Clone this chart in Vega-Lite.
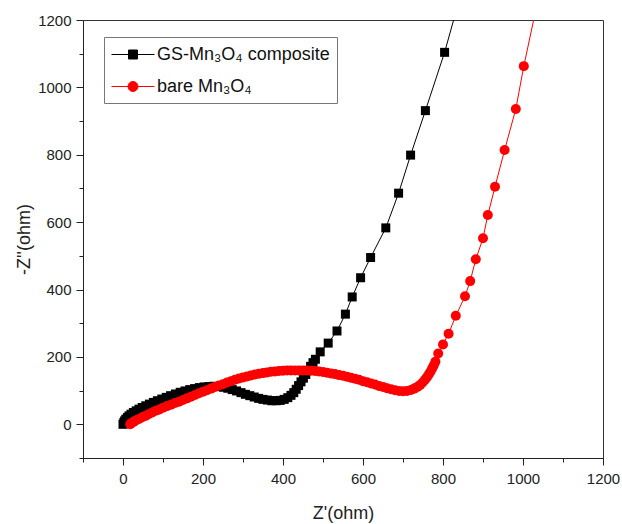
{
  "$schema": "https://vega.github.io/schema/vega-lite/v6.json",
  "width": 520,
  "height": 438,
  "autosize": {"type": "none"},
  "padding": {"left": 83, "top": 20, "right": 19, "bottom": 66},
  "background": "white",
  "config": {
    "font": "Liberation Sans",
    "view": {"stroke": "#333", "strokeWidth": 1},
    "axis": {"grid": false, "domainColor": "#222", "tickColor": "#222", "labelColor": "#222", "titleColor": "#222", "labelFont": "Liberation Sans", "titleFont": "Liberation Sans", "titleFontWeight": "normal"}
  },
  "datasets": {
    "eis": [
      {"series": "GS-Mn₃O₄ composite", "o": 1, "x": 0, "y": 0},
      {"series": "GS-Mn₃O₄ composite", "o": 2, "x": 2, "y": 5},
      {"series": "GS-Mn₃O₄ composite", "o": 3, "x": 4, "y": 10},
      {"series": "GS-Mn₃O₄ composite", "o": 4, "x": 7, "y": 15},
      {"series": "GS-Mn₃O₄ composite", "o": 5, "x": 11, "y": 20},
      {"series": "GS-Mn₃O₄ composite", "o": 6, "x": 15, "y": 25},
      {"series": "GS-Mn₃O₄ composite", "o": 7, "x": 20, "y": 30},
      {"series": "GS-Mn₃O₄ composite", "o": 8, "x": 26, "y": 35},
      {"series": "GS-Mn₃O₄ composite", "o": 9, "x": 33, "y": 40},
      {"series": "GS-Mn₃O₄ composite", "o": 10, "x": 40, "y": 45},
      {"series": "GS-Mn₃O₄ composite", "o": 11, "x": 48, "y": 50},
      {"series": "GS-Mn₃O₄ composite", "o": 12, "x": 57, "y": 55},
      {"series": "GS-Mn₃O₄ composite", "o": 13, "x": 66, "y": 60},
      {"series": "GS-Mn₃O₄ composite", "o": 14, "x": 76, "y": 65},
      {"series": "GS-Mn₃O₄ composite", "o": 15, "x": 86, "y": 70},
      {"series": "GS-Mn₃O₄ composite", "o": 16, "x": 97, "y": 75},
      {"series": "GS-Mn₃O₄ composite", "o": 17, "x": 108, "y": 80},
      {"series": "GS-Mn₃O₄ composite", "o": 18, "x": 119, "y": 85},
      {"series": "GS-Mn₃O₄ composite", "o": 19, "x": 131, "y": 90},
      {"series": "GS-Mn₃O₄ composite", "o": 20, "x": 143, "y": 95},
      {"series": "GS-Mn₃O₄ composite", "o": 21, "x": 155, "y": 99},
      {"series": "GS-Mn₃O₄ composite", "o": 22, "x": 167, "y": 103},
      {"series": "GS-Mn₃O₄ composite", "o": 23, "x": 179, "y": 106},
      {"series": "GS-Mn₃O₄ composite", "o": 24, "x": 191, "y": 109},
      {"series": "GS-Mn₃O₄ composite", "o": 25, "x": 203, "y": 111},
      {"series": "GS-Mn₃O₄ composite", "o": 26, "x": 215, "y": 112},
      {"series": "GS-Mn₃O₄ composite", "o": 27, "x": 227, "y": 113},
      {"series": "GS-Mn₃O₄ composite", "o": 28, "x": 239, "y": 112},
      {"series": "GS-Mn₃O₄ composite", "o": 29, "x": 251, "y": 110},
      {"series": "GS-Mn₃O₄ composite", "o": 30, "x": 262, "y": 107},
      {"series": "GS-Mn₃O₄ composite", "o": 31, "x": 273, "y": 103},
      {"series": "GS-Mn₃O₄ composite", "o": 32, "x": 284, "y": 99},
      {"series": "GS-Mn₃O₄ composite", "o": 33, "x": 295, "y": 94},
      {"series": "GS-Mn₃O₄ composite", "o": 34, "x": 306, "y": 89},
      {"series": "GS-Mn₃O₄ composite", "o": 35, "x": 317, "y": 85},
      {"series": "GS-Mn₃O₄ composite", "o": 36, "x": 328, "y": 81},
      {"series": "GS-Mn₃O₄ composite", "o": 37, "x": 339, "y": 77},
      {"series": "GS-Mn₃O₄ composite", "o": 38, "x": 350, "y": 74},
      {"series": "GS-Mn₃O₄ composite", "o": 39, "x": 361, "y": 72},
      {"series": "GS-Mn₃O₄ composite", "o": 40, "x": 372, "y": 70},
      {"series": "GS-Mn₃O₄ composite", "o": 41, "x": 383, "y": 70},
      {"series": "GS-Mn₃O₄ composite", "o": 42, "x": 393, "y": 71},
      {"series": "GS-Mn₃O₄ composite", "o": 43, "x": 403, "y": 74},
      {"series": "GS-Mn₃O₄ composite", "o": 44, "x": 412, "y": 79},
      {"series": "GS-Mn₃O₄ composite", "o": 45, "x": 420, "y": 86},
      {"series": "GS-Mn₃O₄ composite", "o": 46, "x": 427, "y": 94},
      {"series": "GS-Mn₃O₄ composite", "o": 47, "x": 433, "y": 104},
      {"series": "GS-Mn₃O₄ composite", "o": 48, "x": 439, "y": 115},
      {"series": "GS-Mn₃O₄ composite", "o": 49, "x": 445, "y": 126},
      {"series": "GS-Mn₃O₄ composite", "o": 50, "x": 451, "y": 137},
      {"series": "GS-Mn₃O₄ composite", "o": 51, "x": 457, "y": 148},
      {"series": "GS-Mn₃O₄ composite", "o": 52, "x": 463, "y": 160},
      {"series": "GS-Mn₃O₄ composite", "o": 53, "x": 469, "y": 172},
      {"series": "GS-Mn₃O₄ composite", "o": 54, "x": 475, "y": 183},
      {"series": "GS-Mn₃O₄ composite", "o": 55, "x": 481, "y": 193},
      {"series": "GS-Mn₃O₄ composite", "o": 56, "x": 493, "y": 215},
      {"series": "GS-Mn₃O₄ composite", "o": 57, "x": 513, "y": 241},
      {"series": "GS-Mn₃O₄ composite", "o": 58, "x": 535, "y": 277},
      {"series": "GS-Mn₃O₄ composite", "o": 59, "x": 556, "y": 327},
      {"series": "GS-Mn₃O₄ composite", "o": 60, "x": 573, "y": 378},
      {"series": "GS-Mn₃O₄ composite", "o": 61, "x": 594, "y": 435},
      {"series": "GS-Mn₃O₄ composite", "o": 62, "x": 619, "y": 495},
      {"series": "GS-Mn₃O₄ composite", "o": 63, "x": 657, "y": 583},
      {"series": "GS-Mn₃O₄ composite", "o": 64, "x": 689, "y": 686},
      {"series": "GS-Mn₃O₄ composite", "o": 65, "x": 719, "y": 799},
      {"series": "GS-Mn₃O₄ composite", "o": 66, "x": 756, "y": 931},
      {"series": "GS-Mn₃O₄ composite", "o": 67, "x": 804, "y": 1104},
      {"series": "GS-Mn₃O₄ composite", "o": 68, "x": 850, "y": 1300},
      {"series": "bare Mn₃O₄", "o": 1, "x": 18, "y": 0},
      {"series": "bare Mn₃O₄", "o": 2, "x": 22, "y": 4},
      {"series": "bare Mn₃O₄", "o": 3, "x": 27, "y": 8},
      {"series": "bare Mn₃O₄", "o": 4, "x": 33, "y": 12},
      {"series": "bare Mn₃O₄", "o": 5, "x": 40, "y": 16},
      {"series": "bare Mn₃O₄", "o": 6, "x": 48, "y": 21},
      {"series": "bare Mn₃O₄", "o": 7, "x": 56, "y": 25},
      {"series": "bare Mn₃O₄", "o": 8, "x": 64, "y": 30},
      {"series": "bare Mn₃O₄", "o": 9, "x": 73, "y": 35},
      {"series": "bare Mn₃O₄", "o": 10, "x": 82, "y": 40},
      {"series": "bare Mn₃O₄", "o": 11, "x": 91, "y": 44},
      {"series": "bare Mn₃O₄", "o": 12, "x": 100, "y": 49},
      {"series": "bare Mn₃O₄", "o": 13, "x": 110, "y": 54},
      {"series": "bare Mn₃O₄", "o": 14, "x": 120, "y": 58},
      {"series": "bare Mn₃O₄", "o": 15, "x": 130, "y": 63},
      {"series": "bare Mn₃O₄", "o": 16, "x": 140, "y": 67},
      {"series": "bare Mn₃O₄", "o": 17, "x": 150, "y": 72},
      {"series": "bare Mn₃O₄", "o": 18, "x": 160, "y": 77},
      {"series": "bare Mn₃O₄", "o": 19, "x": 170, "y": 82},
      {"series": "bare Mn₃O₄", "o": 20, "x": 180, "y": 87},
      {"series": "bare Mn₃O₄", "o": 21, "x": 190, "y": 92},
      {"series": "bare Mn₃O₄", "o": 22, "x": 200, "y": 97},
      {"series": "bare Mn₃O₄", "o": 23, "x": 210, "y": 101},
      {"series": "bare Mn₃O₄", "o": 24, "x": 220, "y": 106},
      {"series": "bare Mn₃O₄", "o": 25, "x": 230, "y": 111},
      {"series": "bare Mn₃O₄", "o": 26, "x": 240, "y": 115},
      {"series": "bare Mn₃O₄", "o": 27, "x": 250, "y": 119},
      {"series": "bare Mn₃O₄", "o": 28, "x": 260, "y": 124},
      {"series": "bare Mn₃O₄", "o": 29, "x": 270, "y": 128},
      {"series": "bare Mn₃O₄", "o": 30, "x": 280, "y": 132},
      {"series": "bare Mn₃O₄", "o": 31, "x": 290, "y": 136},
      {"series": "bare Mn₃O₄", "o": 32, "x": 300, "y": 139},
      {"series": "bare Mn₃O₄", "o": 33, "x": 310, "y": 142},
      {"series": "bare Mn₃O₄", "o": 34, "x": 320, "y": 145},
      {"series": "bare Mn₃O₄", "o": 35, "x": 330, "y": 148},
      {"series": "bare Mn₃O₄", "o": 36, "x": 340, "y": 150},
      {"series": "bare Mn₃O₄", "o": 37, "x": 350, "y": 152},
      {"series": "bare Mn₃O₄", "o": 38, "x": 360, "y": 154},
      {"series": "bare Mn₃O₄", "o": 39, "x": 370, "y": 156},
      {"series": "bare Mn₃O₄", "o": 40, "x": 380, "y": 157},
      {"series": "bare Mn₃O₄", "o": 41, "x": 390, "y": 158},
      {"series": "bare Mn₃O₄", "o": 42, "x": 400, "y": 159},
      {"series": "bare Mn₃O₄", "o": 43, "x": 410, "y": 160},
      {"series": "bare Mn₃O₄", "o": 44, "x": 420, "y": 160},
      {"series": "bare Mn₃O₄", "o": 45, "x": 430, "y": 160},
      {"series": "bare Mn₃O₄", "o": 46, "x": 440, "y": 160},
      {"series": "bare Mn₃O₄", "o": 47, "x": 450, "y": 160},
      {"series": "bare Mn₃O₄", "o": 48, "x": 460, "y": 160},
      {"series": "bare Mn₃O₄", "o": 49, "x": 470, "y": 159},
      {"series": "bare Mn₃O₄", "o": 50, "x": 480, "y": 158},
      {"series": "bare Mn₃O₄", "o": 51, "x": 490, "y": 157},
      {"series": "bare Mn₃O₄", "o": 52, "x": 500, "y": 155},
      {"series": "bare Mn₃O₄", "o": 53, "x": 510, "y": 153},
      {"series": "bare Mn₃O₄", "o": 54, "x": 520, "y": 151},
      {"series": "bare Mn₃O₄", "o": 55, "x": 530, "y": 149},
      {"series": "bare Mn₃O₄", "o": 56, "x": 540, "y": 146},
      {"series": "bare Mn₃O₄", "o": 57, "x": 550, "y": 144},
      {"series": "bare Mn₃O₄", "o": 58, "x": 560, "y": 141},
      {"series": "bare Mn₃O₄", "o": 59, "x": 570, "y": 138},
      {"series": "bare Mn₃O₄", "o": 60, "x": 580, "y": 135},
      {"series": "bare Mn₃O₄", "o": 61, "x": 590, "y": 132},
      {"series": "bare Mn₃O₄", "o": 62, "x": 600, "y": 128},
      {"series": "bare Mn₃O₄", "o": 63, "x": 610, "y": 125},
      {"series": "bare Mn₃O₄", "o": 64, "x": 620, "y": 121},
      {"series": "bare Mn₃O₄", "o": 65, "x": 630, "y": 118},
      {"series": "bare Mn₃O₄", "o": 66, "x": 640, "y": 114},
      {"series": "bare Mn₃O₄", "o": 67, "x": 650, "y": 111},
      {"series": "bare Mn₃O₄", "o": 68, "x": 660, "y": 107},
      {"series": "bare Mn₃O₄", "o": 69, "x": 670, "y": 104},
      {"series": "bare Mn₃O₄", "o": 70, "x": 680, "y": 101},
      {"series": "bare Mn₃O₄", "o": 71, "x": 690, "y": 99},
      {"series": "bare Mn₃O₄", "o": 72, "x": 700, "y": 98},
      {"series": "bare Mn₃O₄", "o": 73, "x": 710, "y": 99},
      {"series": "bare Mn₃O₄", "o": 74, "x": 720, "y": 102},
      {"series": "bare Mn₃O₄", "o": 75, "x": 728, "y": 106},
      {"series": "bare Mn₃O₄", "o": 76, "x": 736, "y": 111},
      {"series": "bare Mn₃O₄", "o": 77, "x": 743, "y": 117},
      {"series": "bare Mn₃O₄", "o": 78, "x": 749, "y": 124},
      {"series": "bare Mn₃O₄", "o": 79, "x": 755, "y": 132},
      {"series": "bare Mn₃O₄", "o": 80, "x": 760, "y": 140},
      {"series": "bare Mn₃O₄", "o": 81, "x": 765, "y": 149},
      {"series": "bare Mn₃O₄", "o": 82, "x": 769, "y": 157},
      {"series": "bare Mn₃O₄", "o": 83, "x": 773, "y": 166},
      {"series": "bare Mn₃O₄", "o": 84, "x": 777, "y": 175},
      {"series": "bare Mn₃O₄", "o": 85, "x": 781, "y": 186},
      {"series": "bare Mn₃O₄", "o": 86, "x": 788, "y": 210},
      {"series": "bare Mn₃O₄", "o": 87, "x": 800, "y": 237},
      {"series": "bare Mn₃O₄", "o": 88, "x": 814, "y": 269},
      {"series": "bare Mn₃O₄", "o": 89, "x": 832, "y": 322},
      {"series": "bare Mn₃O₄", "o": 90, "x": 855, "y": 380},
      {"series": "bare Mn₃O₄", "o": 91, "x": 868, "y": 425},
      {"series": "bare Mn₃O₄", "o": 92, "x": 882, "y": 490},
      {"series": "bare Mn₃O₄", "o": 93, "x": 900, "y": 552},
      {"series": "bare Mn₃O₄", "o": 94, "x": 912, "y": 621},
      {"series": "bare Mn₃O₄", "o": 95, "x": 930, "y": 705},
      {"series": "bare Mn₃O₄", "o": 96, "x": 954, "y": 814},
      {"series": "bare Mn₃O₄", "o": 97, "x": 982, "y": 936},
      {"series": "bare Mn₃O₄", "o": 98, "x": 1002, "y": 1063},
      {"series": "bare Mn₃O₄", "o": 99, "x": 1032, "y": 1230}
    ]
  },
  "data": {"name": "eis"},
  "resolve": {"axis": {"x": "independent", "y": "independent"}},
  "layer": [
    {
      "mark": {"type": "line", "strokeWidth": 1, "clip": true},
      "encoding": {
        "x": {"field": "x", "type": "quantitative", "scale": {"domain": [-100, 1200], "nice": false, "zero": false},
          "axis": {"orient": "bottom", "values": [0, 200, 400, 600, 800, 1000, 1200], "format": "d", "tickSize": 7, "labelFontSize": 15, "labelPadding": 6, "title": "Z'(ohm)", "titleFontSize": 18, "titlePadding": 18, "labelFlush": false}},
        "y": {"field": "y", "type": "quantitative", "scale": {"domain": [-100, 1200], "nice": false, "zero": false},
          "axis": {"orient": "left", "values": [0, 200, 400, 600, 800, 1000, 1200], "format": "d", "tickSize": 7, "labelFontSize": 15, "labelPadding": 5, "title": "-Z''(ohm)", "titleFontSize": 18, "titlePadding": 4, "labelFlush": false}},
        "order": {"field": "o", "type": "quantitative"},
        "color": {"field": "series", "type": "nominal",
          "scale": {"domain": ["GS-Mn₃O₄ composite", "bare Mn₃O₄"], "range": ["#000000", "#ff0000"]},
          "legend": {
            "orient": "none", "legendX": 21, "legendY": 17, "title": null,
            "strokeColor": "#777", "fillColor": "white", "padding": 7,
            "labelFontSize": 18, "labelFont": "Liberation Sans", "labelColor": "#111", "labelLimit": 400,
            "symbolSize": 400, "labelOffset": 25, "rowPadding": 12,
            "encode": {"symbols": {"update": {
              "shape": {"signal": "datum.value === 'bare Mn₃O₄' ? 'M-1,0H3.3M1.65,0A0.5,0.5,0,1,1,0.65,0A0.5,0.5,0,1,1,1.65,0Z' : 'M-1,0H3.3M0.7,-0.45H1.6V0.45H0.7Z'"},
              "fill": {"scale": "color", "field": "value"},
              "stroke": {"scale": "color", "field": "value"},
              "strokeWidth": {"value": 1},
              "size": {"value": 400},
              "opacity": {"value": 1}
            }}}
          }}
      }
    },
    {
      "transform": [{"filter": "datum.series === 'GS-Mn₃O₄ composite'"}],
      "mark": {"type": "point", "shape": "square", "filled": true, "size": 81, "color": "#000000", "opacity": 1, "clip": true},
      "encoding": {
        "x": {"field": "x", "type": "quantitative", "axis": null},
        "y": {"field": "y", "type": "quantitative", "axis": null}
      }
    },
    {
      "transform": [{"filter": "datum.series === 'bare Mn₃O₄'"}],
      "mark": {"type": "point", "shape": "circle", "filled": true, "size": 100, "color": "#ff0000", "opacity": 1, "clip": true},
      "encoding": {
        "x": {"field": "x", "type": "quantitative", "axis": null},
        "y": {"field": "y", "type": "quantitative", "axis": null}
      }
    },
    {
      "mark": {"type": "point", "opacity": 0, "clip": true},
      "encoding": {
        "x": {"field": "x", "type": "quantitative",
          "axis": {"orient": "bottom", "values": [-100, 100, 300, 500, 700, 900, 1100], "tickSize": 4, "labels": false, "domain": false, "title": null}},
        "y": {"field": "y", "type": "quantitative",
          "axis": {"orient": "left", "values": [-100, 100, 300, 500, 700, 900, 1100], "tickSize": 4, "labels": false, "domain": false, "title": null}}
      }
    }
  ]
}
